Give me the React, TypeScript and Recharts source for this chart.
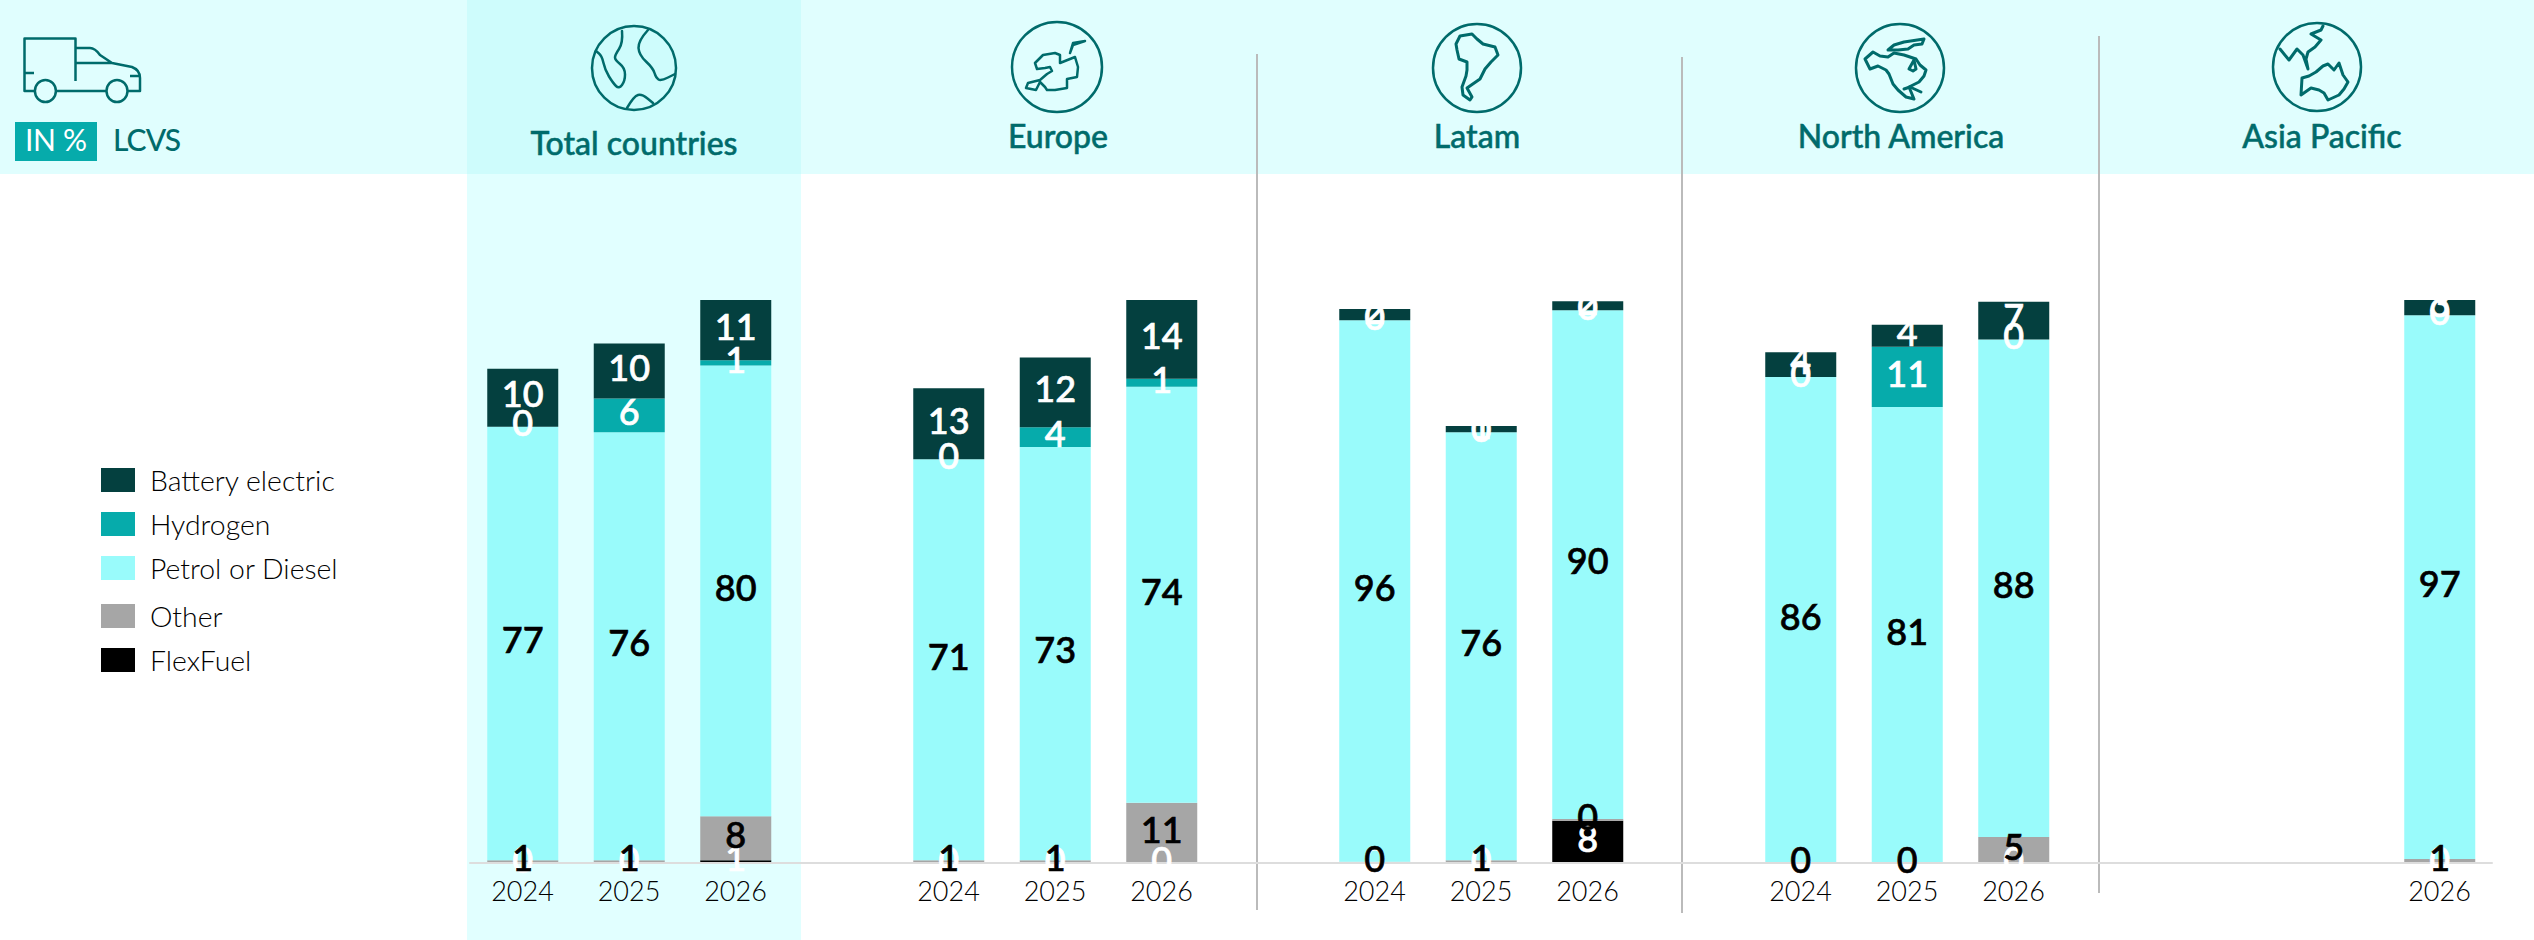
import React from 'react';
import { BarChart, Bar, XAxis, YAxis, LabelList, Legend } from 'recharts';

// one slot per column; blank slots are the gaps between the regions
const years = ['2024', '2025', '2026', '', '2024', '2025', '2026', '', '2024', '2025', '2026', '', '2024', '2025', '2026', '', '', '', '2026'];
const batteryElectric = [10.3, 9.8, 10.7, null, 12.6, 12.4, 14, null, 2, 1.1, 1.6, null, 4.4, 3.9, 6.7, null, null, null, 2.7];
const hydrogen = [0, 6, 0.9, null, 0, 3.5, 1.4, null, 0, 0, 0, null, 0, 10.7, 0, null, null, null, 0];
const petrolDiesel = [77, 76, 80.1, null, 71.2, 73.4, 73.9, null, 96.2, 76, 90.4, null, 86.3, 81, 88.4, null, null, null, 96.6];
const other = [0.5, 0.5, 7.8, null, 0.5, 0.5, 10.7, null, 0.2, 0.5, 0.3, null, 0, 0, 4.6, null, null, null, 0.7];
const flexFuel = [0, 0, 0.5, null, 0, 0, 0, null, 0, 0, 7.5, null, 0, 0, 0, null, null, null, 0];

const legendNames = ['Battery electric', 'Hydrogen', 'Petrol or Diesel', 'Other', 'FlexFuel'];
const regions = ['Total countries', 'Europe', 'Latam', 'North America', 'Asia Pacific'];

// zero-height bars lose their label, so a zero becomes a sliver that still rounds to 0
const keepZero = (v: number | null) => (v === 0 ? 0.01 : v);

const data = years.map((year, i) => ({
  year,
  battery: keepZero(batteryElectric[i]),
  hydrogen: keepZero(hydrogen[i]),
  petrol: keepZero(petrolDiesel[i]),
  other: keepZero(other[i]),
  flex: keepZero(flexFuel[i]),
}));

const TEAL = '#006B6B';
const FONT = 'Lato, sans-serif';
const legendColors = ['#04403F', '#06ABAB', '#99FBFB', '#A6A6A6', '#000000'];
const legendTops = [468, 512, 556, 604, 648];

// bottom-up stack order, labels of later series sit on top of earlier ones
const stack = [
  { key: 'flex', fill: '#000000', label: '#FFFFFF' },
  { key: 'other', fill: '#A6A6A6', label: '#000000' },
  { key: 'petrol', fill: '#99FBFB', label: '#000000' },
  { key: 'hydrogen', fill: '#06ABAB', label: '#FFFFFF' },
  { key: 'battery', fill: '#04403F', label: '#FFFFFF' },
];

type Pt = [number, number];

// rounded line through hand-traced outline points
function smooth(pts: Pt[]) {
  let d = `M${pts[0][0]} ${pts[0][1]}`;
  for (let i = 1; i < pts.length - 1; i++) {
    const mx = (pts[i][0] + pts[i + 1][0]) / 2;
    const my = (pts[i][1] + pts[i + 1][1]) / 2;
    d += ` Q${pts[i][0]} ${pts[i][1]} ${mx} ${my}`;
  }
  const last = pts[pts.length - 1];
  return d + ` L${last[0]} ${last[1]}`;
}

const polyline = (pts: Pt[]) => 'M' + pts.map((p) => `${p[0]} ${p[1]}`).join(' L');

const globes: { cx: number; cy: number; r: number; sw: number; curved: boolean; land: Pt[][] }[] = [
  {
    cx: 634, cy: 68, r: 42, sw: 2.5, curved: true,
    land: [
      [[-12, -37], [-11, -25], [-19, -13], [-19, -8], [-9, 0], [-9, 13], [-15, 21], [-21, 15], [-29, 2], [-32, -12], [-38, -17]],
      [[14, -38], [4, -27], [5, -13], [19, 0], [22, 10], [27, 13], [41, 6]],
      [[-7, 40], [0, 28], [8, 26], [19, 35]],
    ],
  },
  {
    cx: 1057, cy: 67, r: 45, sw: 2.5, curved: false,
    land: [
      [[18, -10], [8, -6], [3, -4], [3, -12], [-2, -14], [-14, -12], [-22, -4], [-20, 2], [-12, 1], [-7, 0], [-5, 4], [-10, 7], [-17, 13], [-29, 16], [-31, 21], [-21, 23], [-17, 15], [-12, 20], [-10, 23], [-2, 23], [10, 21], [10, 12], [20, 10], [21, 0], [18, -10]],
      [[28, -26], [16, -24], [13, -14], [16, -22], [28, -26]],
    ],
  },
  {
    cx: 1477, cy: 68, r: 44, sw: 3, curved: false,
    land: [[[-17, -32], [-5, -34], [0, -29], [6, -24], [18, -21], [21, -13], [14, -6], [8, 1], [3, 11], [-10, 20], [-5, 29], [-7, 32], [-14, 27], [-15, 19], [-11, 8], [-10, 2], [-10, -6], [-18, -9], [-20, -18], [-21, -24], [-17, -32]]],
  },
  {
    cx: 1900, cy: 68, r: 44, sw: 3, curved: false,
    land: [
      [[-35, -9], [-27, -16], [-20, -12], [-12, -11], [-6, -15], [4, -13], [16, -9], [20, -3], [26, 2], [24, 8], [19, 14], [9, 19], [14, 31], [6, 29], [-2, 22], [-7, 16], [-11, 6], [-14, 2], [-22, -2], [-30, 1], [-35, -9]],
      [[-12, -18], [-6, -23], [4, -26], [24, -29], [22, -24], [14, -23], [8, -19], [-2, -18], [-12, -18]],
      [[14, -8], [9, 1], [13, 3], [16, 1], [14, -8]],
      [[4, 21], [10, 19], [21, 24]],
    ],
  },
  {
    cx: 2317, cy: 67, r: 44, sw: 3, curved: false,
    land: [
      [[-15, 11], [-8, 9], [-1, 5], [6, -1], [11, -3], [17, 3], [22, -4], [26, 8], [31, 15], [27, 22], [22, 28], [11, 33], [7, 26], [2, 23], [-6, 21], [-16, 28], [-15, 11]],
      [[-37, -18], [-28, -7], [-20, -18], [-14, -12], [-9, 2], [-11, -8], [-9, -15], [-2, -20], [4, -27], [-6, -33], [4, -37], [6, -41]],
    ],
  },
];

const regionLabels = [
  { x: 634, y: 155 },
  { x: 1058, y: 148 },
  { x: 1477, y: 148 },
  { x: 1901, y: 148 },
  { x: 2322, y: 148 },
];

const dividers = [
  { x: 1257, y1: 54, y2: 910 },
  { x: 1682, y1: 57, y2: 913 },
  { x: 2099, y1: 36, y2: 893 },
];

function Backdrop() {
  return (
    <svg width={2534} height={940} style={{ position: 'absolute', left: 0, top: 0 }}>
      <rect x={0} y={0} width={2534} height={174} fill="#E0FEFE" />
      <rect x={467} y={174} width={334} height={766} fill="#E1FFFF" />
      <rect x={467} y={0} width={334} height={174} fill="#CEFCFC" />
      {dividers.map((d) => (
        <line key={d.x} x1={d.x} x2={d.x} y1={d.y1} y2={d.y2} stroke="#BBBBBB" strokeWidth={2} />
      ))}

      <g fill="none" stroke={TEAL} strokeWidth={2.5} strokeLinejoin="round">
        <path d="M34 91 H24.5 V38.5 H75.5 V81 M75.5 48 H90 Q95 48 100 55 L112 63 L132 67 Q140 70 140 78 V91 H127.5 M57 91 H107 M75.5 63 H112 M24.5 73 H34 M130 76 H140" />
        <ellipse cx={45.4} cy={91} rx={10.5} ry={11} />
        <ellipse cx={117} cy={91} rx={10.5} ry={11} />
      </g>
      <rect x={15} y={122} width={82} height={39} fill="#06ABAB" />
      <text x={56} y={151} textAnchor="middle" fill="#FFFFFF" fontFamily={FONT} fontSize={30} textLength={62}>IN %</text>
      <text x={113} y={151} fill={TEAL} fontFamily={FONT} fontSize={30} fontWeight={500} textLength={68}>LCVS</text>

      {globes.map((g) => (
        <g key={g.cx} transform={`translate(${g.cx} ${g.cy})`} fill="none" stroke={TEAL} strokeWidth={g.sw} strokeLinejoin="round" strokeLinecap="round">
          <circle cx={0} cy={0} r={g.r} strokeWidth={2.5} />
          {g.land.map((pts, i) => (
            <path key={i} d={g.curved ? smooth(pts) : polyline(pts)} />
          ))}
        </g>
      ))}
      {regions.map((name, i) => (
        <text key={name} x={regionLabels[i].x} y={regionLabels[i].y} textAnchor="middle" fill={TEAL} stroke={TEAL} strokeWidth={0.5} fontFamily={FONT} fontSize={32} fontWeight={500}>
          {name}
        </text>
      ))}
    </svg>
  );
}

function FuelLegend() {
  return (
    <div style={{ position: 'relative', width: 300, height: 240, fontFamily: FONT, fontSize: 28.4, fontWeight: 300, color: '#000' }}>
      {legendNames.map((name, i) => (
        <div key={name} style={{ position: 'absolute', left: 0, top: legendTops[i] - legendTops[0], display: 'flex', alignItems: 'center', height: 24 }}>
          <span style={{ display: 'inline-block', width: 34, height: 24, background: legendColors[i], marginRight: 15 }} />
          <span style={{ whiteSpace: 'nowrap' }}>{name}</span>
        </div>
      ))}
    </div>
  );
}

const roundLabel = (v: any) => (v === null || v === undefined ? '' : String(Math.round(Number(v))));

export default function App() {
  return (
    <div style={{ position: 'absolute', left: 0, top: 0, width: 2534, height: 940, background: '#fff', overflow: 'hidden' }}>
      <Backdrop />
      <div style={{ position: 'absolute', left: 0, top: 0 }}>
        <BarChart
          width={2534}
          height={940}
          data={data}
          barSize={71}
          margin={{ top: 300, right: 41.25, bottom: 0, left: 469.25 }}
        >
          <XAxis
            dataKey="year"
            interval={0}
            height={77}
            tickLine={false}
            axisLine={{ stroke: '#DDDDDD', strokeWidth: 2 }}
            tick={{ fill: '#000', fontFamily: FONT, fontSize: 27, fontWeight: 300 }}
            tickMargin={13}
          />
          <YAxis hide domain={[0, 100]} />
          {/* horizontal + middle keeps the legend out of the plot area sizing */}
          <Legend
            layout="horizontal"
            verticalAlign="middle"
            content={<FuelLegend />}
            wrapperStyle={{ position: 'absolute', left: 101, top: 468, width: 300, bottom: 'auto' }}
          />
          {stack.map((s) => (
            <Bar key={s.key} dataKey={s.key} stackId="fuel" fill={s.fill} isAnimationActive={false}>
              <LabelList
                dataKey={s.key}
                position="center"
                formatter={roundLabel}
                fill={s.label}
                stroke={s.label}
                strokeWidth={0.7}
                fontFamily={FONT}
                fontSize={36}
                fontWeight={500}
                dy={-3}
              />
            </Bar>
          ))}
        </BarChart>
      </div>
    </div>
  );
}
